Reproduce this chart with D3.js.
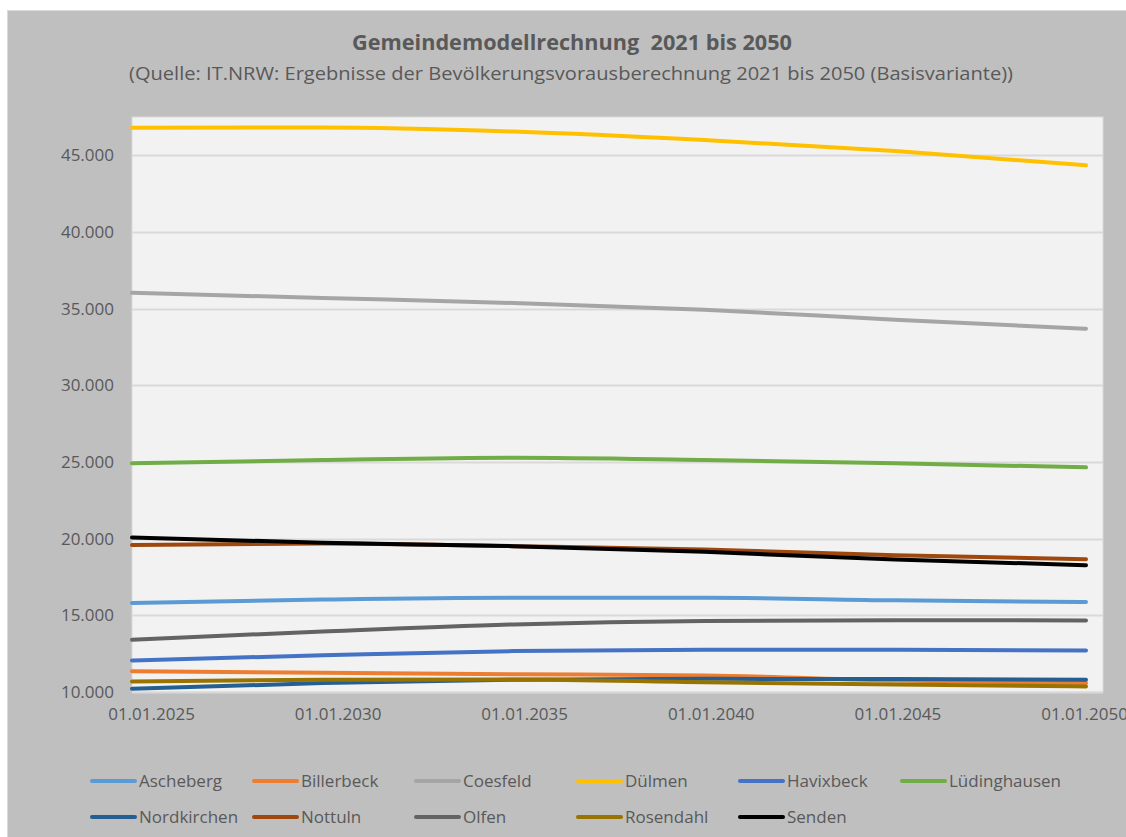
<!DOCTYPE html>
<html><head><meta charset="utf-8">
<script src="https://cdn.jsdelivr.net/npm/d3@7"></script>
<style>html,body{margin:0;padding:0;background:#fff;overflow:hidden}svg{display:block}</style>
</head><body>
<script>
const years = [2025, 2030, 2035, 2040, 2045, 2050];
const tickLabels = ["01.01.2025","01.01.2030","01.01.2035","01.01.2040","01.01.2045","01.01.2050"];
const yTicks = [10000,15000,20000,25000,30000,35000,40000,45000];
const seriesNames = ["Ascheberg","Billerbeck","Coesfeld","Dülmen","Havixbeck","Lüdinghausen","Nordkirchen","Nottuln","Olfen","Rosendahl","Senden"];
const seriesColors = ["#5B9BD5","#ED7D31","#A5A5A5","#FFC000","#4472C4","#70AD47","#255E91","#9E480E","#636363","#997300","#000000"];
const ascheberg    = [15800, 16030, 16150, 16150, 15980, 15870];
const billerbeck   = [11360, 11250, 11160, 11080, 10750, 10580];
const coesfeld     = [36030, 35700, 35370, 34930, 34280, 33690];
const duelmen      = [46800, 46820, 46550, 46000, 45280, 44350];
const havixbeck    = [12060, 12390, 12670, 12760, 12760, 12710];
const luedinghausen= [24920, 25130, 25280, 25130, 24920, 24650];
const nordkirchen  = [10210, 10580, 10800, 10860, 10840, 10800];
const nottuln      = [19580, 19690, 19510, 19290, 18920, 18660];
const olfen        = [13410, 13950, 14410, 14630, 14680, 14670];
const rosendahl    = [10690, 10800, 10820, 10640, 10490, 10360];
const senden       = [20080, 19730, 19510, 19140, 18640, 18270];
const seriesValues = [ascheberg,billerbeck,coesfeld,duelmen,havixbeck,luedinghausen,nordkirchen,nottuln,olfen,rosendahl,senden];

const W = 1126, H = 837;
const font = "'Open Sans', 'Noto Sans', sans-serif";
const textCol = "#595959";
const svg = d3.select("body").append("svg").attr("width", W).attr("height", H);

// chart area
svg.append("rect").attr("x", 7.5).attr("y", 10.5).attr("width", W).attr("height", H)
  .attr("fill", "#bfbfbf").attr("stroke", "#d9d9d9").attr("stroke-width", 1);

const plot = {l: 132, t: 117, r: 1103, b: 692};
const dates = years.map(y => new Date(y, 0, 1));
const x = d3.scaleTime().domain([dates[0], dates[dates.length-1]]).range([132, 1086]);
const xLab = d3.scaleTime().domain([dates[0], dates[dates.length-1]]).range([151, 1084]);
const y = d3.scaleLinear().domain([10000, 47500]).range([plot.b, plot.t]);

svg.append("rect").attr("x", plot.l).attr("y", plot.t).attr("width", plot.r - plot.l).attr("height", plot.b - plot.t)
  .attr("fill", "#f2f2f2").attr("stroke", "#d9d9d9").attr("stroke-width", 1);

// gridlines
svg.append("g").selectAll("line").data(yTicks).join("line")
  .attr("x1", plot.l).attr("x2", plot.r)
  .attr("y1", d => Math.round(y(d)) + 0.5).attr("y2", d => Math.round(y(d)) + 0.5)
  .attr("stroke", "#d9d9d9").attr("stroke-width", 2);

// y labels
const nf = d3.formatLocale({decimal: ",", thousands: ".", grouping: [3], currency: ["", "€"]}).format(",.0f");
const yAxis = svg.append("g").attr("transform", `translate(${plot.l},0)`)
  .call(d3.axisLeft(y).tickValues(yTicks).tickFormat(nf).tickSize(0).tickPadding(18));
yAxis.select(".domain").remove();
yAxis.selectAll("text").attr("font-family", font).attr("font-size", 17).attr("fill", textCol);

// x labels
const xAxis = svg.append("g").attr("transform", `translate(0,${plot.b})`)
  .call(d3.axisBottom(xLab).tickValues(dates).tickFormat((d, i) => tickLabels[i]).tickSize(0).tickPadding(16));
xAxis.select(".domain").remove();
xAxis.selectAll("text").attr("font-family", font).attr("font-size", 17).attr("fill", textCol);

// lines
const line = d3.line().x((d, i) => x(dates[i])).y(d => y(d)).curve(d3.curveMonotoneX);
svg.append("g").selectAll("path").data(seriesValues).join("path")
  .attr("d", d => line(d)).attr("fill", "none")
  .attr("stroke", (d, i) => seriesColors[i]).attr("stroke-width", 4)
  .attr("stroke-linecap", "round").attr("stroke-linejoin", "round");

// title
svg.append("text").attr("x", 572).attr("y", 50).attr("text-anchor", "middle")
  .attr("font-family", font).attr("font-size", 21).attr("font-weight", "bold").attr("fill", textCol)
  .attr("xml:space", "preserve").attr("textLength", 440).attr("lengthAdjust", "spacingAndGlyphs")
  .text("Gemeindemodellrechnung  2021 bis 2050");
svg.append("text").attr("x", 571).attr("y", 80).attr("text-anchor", "middle")
  .attr("font-family", font).attr("font-size", 18).attr("fill", textCol)
  .attr("textLength", 884).attr("lengthAdjust", "spacingAndGlyphs")
  .text("(Quelle: IT.NRW: Ergebnisse der Bevölkerungsvorausberechnung 2021 bis 2050 (Basisvariante))");

// legend
const legX = d3.scalePoint().domain(d3.range(6)).range([92, 902]);
const leg = svg.append("g").selectAll("g").data(seriesNames).join("g")
  .attr("transform", (d, i) => `translate(${legX(i % 6)},${i < 6 ? 781 : 817})`);
leg.append("line").attr("x1", 0).attr("x2", 43).attr("y1", 0).attr("y2", 0)
  .attr("stroke", (d, i) => seriesColors[i]).attr("stroke-width", 4).attr("stroke-linecap", "round");
leg.append("text").attr("x", 47).attr("y", 0).attr("dy", "0.35em")
  .attr("font-family", font).attr("font-size", 17).attr("fill", textCol)
  .text(d => d);
</script>
</body></html>
